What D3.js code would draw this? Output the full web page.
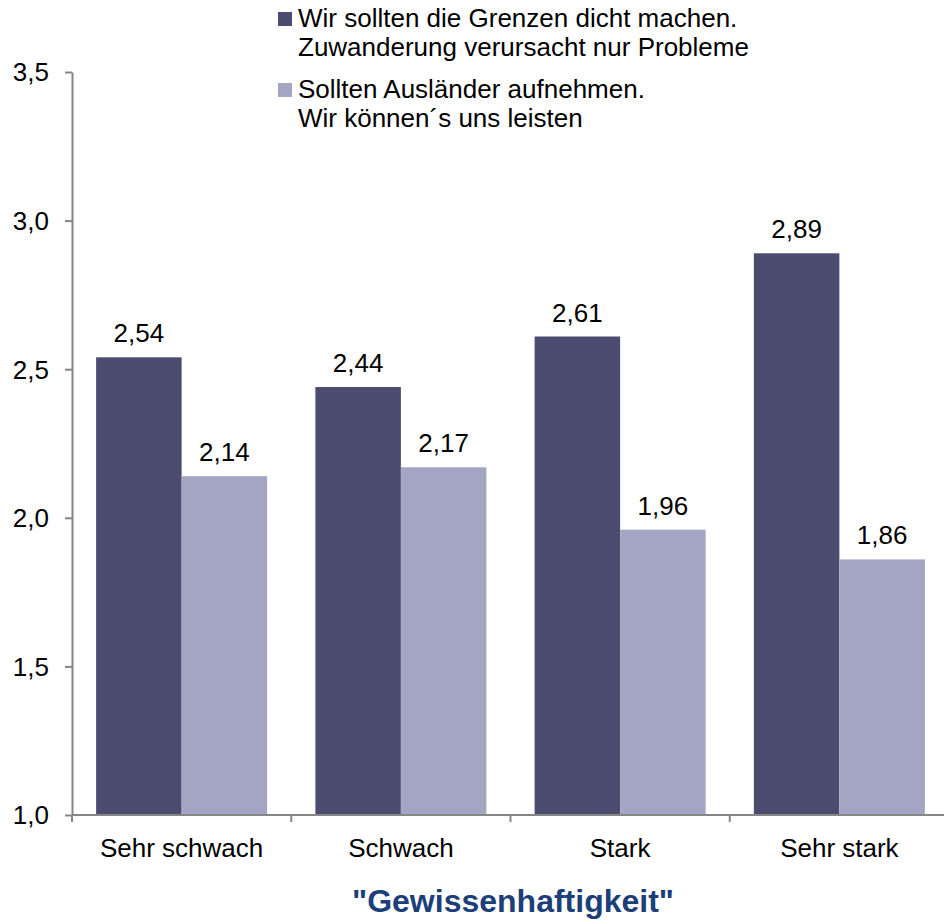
<!DOCTYPE html>
<html>
<head>
<meta charset="utf-8">
<script src="https://cdn.jsdelivr.net/npm/d3@7"></script>
<style>
  body { margin: 0; background: #fff; }
  text { font-family: "Liberation Sans", Arial, sans-serif; fill: #000; }
</style>
</head>
<body>
<svg id="chart" width="944" height="924"></svg>
<script>
// data
var categories = ["Sehr schwach", "Schwach", "Stark", "Sehr stark"];
var seriesNames = [
  ["Wir sollten die Grenzen dicht machen.", "Zuwanderung verursacht nur Probleme"],
  ["Sollten Ausländer aufnehmen.", "Wir können\u00b4s uns leisten"]
];
var closeBorders = [2.54, 2.44, 2.61, 2.89];
var takeIn = [2.14, 2.17, 1.96, 1.86];
var yTicks = [1.0, 1.5, 2.0, 2.5, 3.0, 3.5];
var colors = ["#4c4b70", "#a4a4c3"];
var xTitle = "\"Gewissenhaftigkeit\"";

var svg = d3.select("#chart");

var plotLeft = 72, plotRight = 949, plotTop = 72, plotBottom = 815;

var x = d3.scaleBand()
  .domain(categories)
  .range([plotLeft, plotRight])
  .paddingInner(0.22)
  .paddingOuter(0.11);

var xSub = d3.scaleBand()
  .domain([0, 1])
  .range([0, x.bandwidth()]);

var y = d3.scaleLinear()
  .domain([1.0, 3.5])
  .range([plotBottom, plotTop]);

var fmt = function(v, d) { return v.toFixed(d).replace(".", ","); };

// bars
var rows = categories.map(function(c, i) {
  return [{cat: c, s: 0, v: closeBorders[i]}, {cat: c, s: 1, v: takeIn[i]}];
});

var groups = svg.selectAll(".grp")
  .data(rows)
  .enter().append("g")
  .attr("class", "grp")
  .attr("transform", function(d) { return "translate(" + x(d[0].cat) + ",0)"; });

groups.selectAll("rect")
  .data(function(d) { return d; })
  .enter().append("rect")
  .attr("x", function(d) { return xSub(d.s); })
  .attr("y", function(d) { return y(d.v); })
  .attr("width", xSub.bandwidth())
  .attr("height", function(d) { return plotBottom - y(d.v); })
  .attr("fill", function(d) { return colors[d.s]; });

groups.selectAll(".val")
  .data(function(d) { return d; })
  .enter().append("text")
  .attr("class", "val")
  .attr("x", function(d) { return xSub(d.s) + xSub.bandwidth() / 2; })
  .attr("y", function(d) { return y(d.v) - 15; })
  .attr("text-anchor", "middle")
  .style("font-size", "26px")
  .text(function(d) { return fmt(d.v, 2); });

// y axis
var yAxis = svg.append("g")
  .attr("transform", "translate(" + plotLeft + ",0)")
  .call(d3.axisLeft(y).tickValues(yTicks).tickSize(7).tickSizeOuter(0)
    .tickFormat(function(d) { return fmt(d, 1); }));
yAxis.select(".domain").attr("stroke", "#868686").attr("stroke-width", 2);
yAxis.selectAll(".tick line").attr("stroke", "#868686").attr("stroke-width", 2);
yAxis.selectAll(".tick text")
  .attr("x", -23)
  .attr("dy", "0.34em")
  .style("font-size", "26px")
  .style("font-family", "Liberation Sans, Arial, sans-serif")
  .attr("fill", "#000");

// x axis with ticks between the categories
var xAxis = svg.append("g");
xAxis.append("line")
  .attr("x1", plotLeft).attr("x2", 944)
  .attr("y1", plotBottom).attr("y2", plotBottom)
  .attr("stroke", "#868686").attr("stroke-width", 2);
var step = x.step();
var bounds = d3.range(categories.length + 1).map(function(i) {
  return x(categories[0]) - x.paddingOuter() * step + i * step;
});
xAxis.selectAll(".xt")
  .data(bounds)
  .enter().append("line")
  .attr("x1", function(d) { return d; }).attr("x2", function(d) { return d; })
  .attr("y1", plotBottom).attr("y2", plotBottom + 7)
  .attr("stroke", "#868686").attr("stroke-width", 2);
xAxis.selectAll(".xl")
  .data(categories)
  .enter().append("text")
  .attr("x", function(d) { return x(d) + x.bandwidth() / 2; })
  .attr("y", 857)
  .attr("text-anchor", "middle")
  .style("font-size", "26px")
  .text(function(d) { return d; });

// axis title
svg.append("text")
  .attr("x", 513)
  .attr("y", 912)
  .attr("text-anchor", "middle")
  .style("font-size", "32px")
  .style("font-weight", "bold")
  .style("fill", "#1c3f7a")
  .text(xTitle);

// legend
var legend = svg.selectAll(".leg")
  .data(seriesNames)
  .enter().append("g")
  .attr("class", "leg")
  .attr("transform", function(d, i) { return "translate(278," + (12 + i * 71) + ")"; });

legend.append("rect")
  .attr("width", 14).attr("height", 14)
  .attr("fill", function(d, i) { return colors[i]; });

legend.selectAll("text")
  .data(function(d) { return d; })
  .enter().append("text")
  .attr("x", 20)
  .attr("y", function(d, j) { return 15 + j * 29; })
  .style("font-size", "26px")
  .text(function(d) { return d; });
</script>
</body>
</html>
